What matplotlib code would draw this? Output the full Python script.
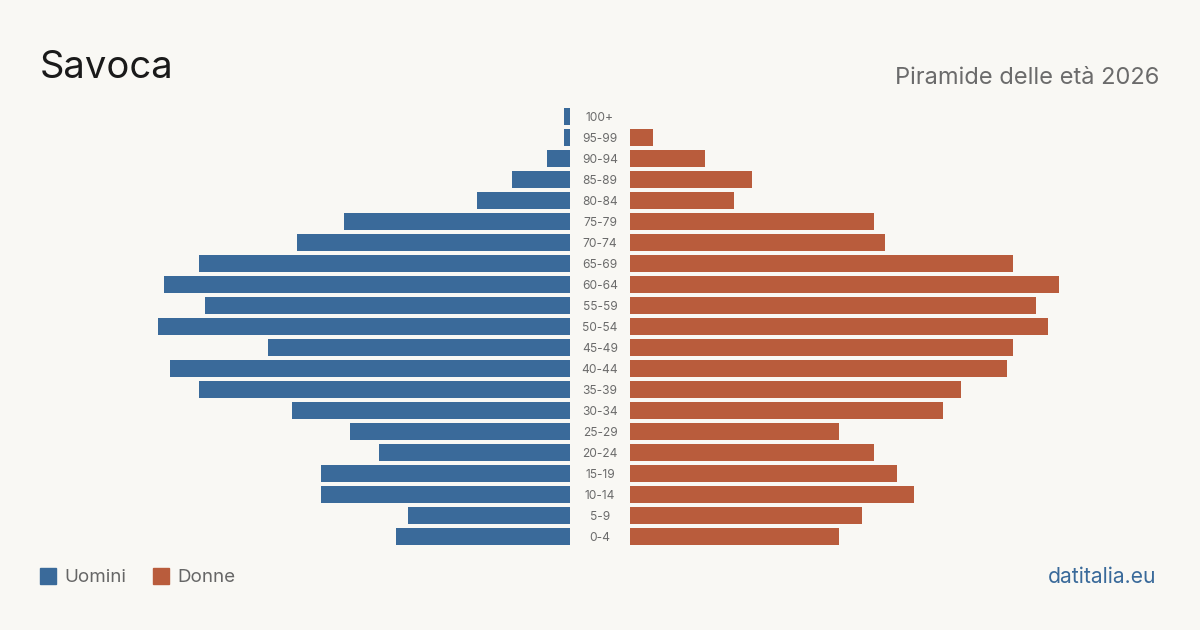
import matplotlib
matplotlib.use("Agg")
import matplotlib.pyplot as plt

plt.rcParams["font.family"] = ["Inter", "DejaVu Sans"]

# age groups, bottom to top
age_groups = ["0-4", "5-9", "10-14", "15-19", "20-24", "25-29", "30-34", "35-39",
              "40-44", "45-49", "50-54", "55-59", "60-64", "65-69", "70-74",
              "75-79", "80-84", "85-89", "90-94", "95-99", "100+"]
males = [30, 28, 43, 43, 33, 38, 48, 64, 69, 52, 71, 63, 70, 64, 47, 39, 16, 10, 4, 1, 1]
females = [36, 40, 49, 46, 42, 36, 54, 57, 65, 66, 72, 70, 74, 66, 44, 42, 18, 21, 13, 4, 0]

BG = "#f9f8f4"
BLUE = "#3a6a9a"
ORANGE = "#b95c3c"

W, H = 1200, 630
fig = plt.figure(figsize=(12, 6.3), dpi=100, facecolor=BG)

top_px, bot_px = 106, 547
ax_b = 1 - bot_px / H
ax_h = (bot_px - top_px) / H
xmax = 530 / 5.8

ax_m = fig.add_axes([40 / W, ax_b, 530 / W, ax_h])
ax_f = fig.add_axes([630 / W, ax_b, 530 / W, ax_h])

ypos = list(range(len(age_groups)))
ax_m.barh(ypos, males, height=0.81, color=BLUE)
ax_f.barh(ypos, females, height=0.81, color=ORANGE)

ax_m.set_xlim(xmax, 0)
ax_f.set_xlim(0, xmax)
for ax in (ax_m, ax_f):
    ax.set_ylim(-0.5, len(age_groups) - 0.5)
    ax.set_facecolor("none")
    ax.axis("off")

# age labels in the gap between the two halves
for y, lab in zip(ypos, age_groups):
    ax_f.annotate(lab, xy=(0, y), xytext=(-30, -1.5), textcoords="offset pixels",
                  xycoords="data", ha="center", va="center",
                  fontsize=8.6, color="#6b6b6b", annotation_clip=False)

fig.text(40 / W, 1 - 68.5 / H, "Savoca", fontsize=27.5, color="#1a1a1a",
         ha="left", va="center")
fig.text(1159 / W, 1 - 77.5 / H, "Piramide delle età 2026", fontsize=17,
         color="#6b6b6b", ha="right", va="center")

# legend
fig.patches.append(plt.Rectangle((40 / W, 1 - 584 / H), 16 / W, 16 / H,
                                 transform=fig.transFigure, color=BLUE))
fig.text(64 / W, 1 - 577 / H, "Uomini", fontsize=13.5, color="#666666",
         ha="left", va="center")
fig.patches.append(plt.Rectangle((153 / W, 1 - 584 / H), 16 / W, 16 / H,
                                 transform=fig.transFigure, color=ORANGE))
fig.text(177 / W, 1 - 577 / H, "Donne", fontsize=13.5, color="#666666",
         ha="left", va="center")

fig.text(1156 / W, 1 - 577 / H, "datitalia.eu", fontsize=15.2, color=BLUE,
         ha="right", va="center")

fig.savefig("out.png", dpi=100, facecolor=BG)
